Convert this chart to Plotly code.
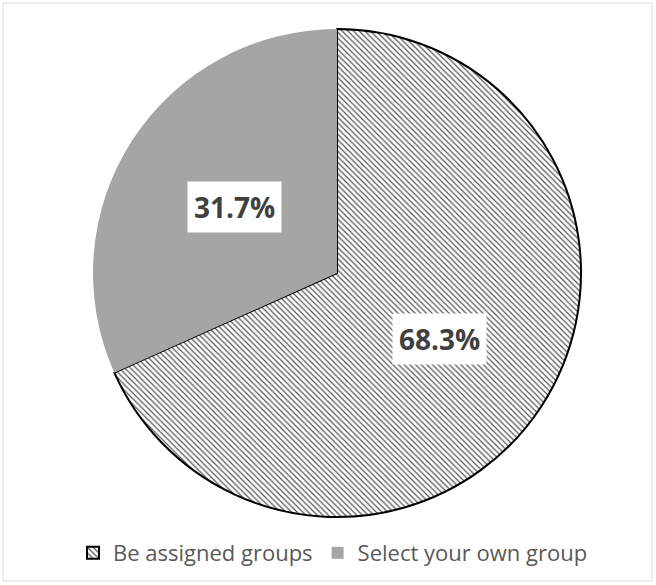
import math
import plotly.graph_objects as go

labels = ["Be assigned groups", "Select your own group"]
values = [68.3, 31.7]
text_labels = ["68.3%", "31.7%"]

W, H = 656, 585
ML, MR, MT, MB = 18, 0, 29, 68
pw, ph = W - ML - MR, H - MT - MB

fig = go.Figure(go.Pie(
    labels=labels,
    values=values,
    sort=False,
    direction="clockwise",
    rotation=0,
    textinfo="none",
    hoverinfo="label+percent",
    marker=dict(
        colors=["white", "#a5a5a5"],
        line=dict(color=["black", "#a5a5a5"], width=[2, 0]),
        pattern=dict(shape=["\\", ""], fgcolor="#555555", bgcolor="white",
                     size=4, solidity=0.3),
    ),
    domain=dict(x=[0, 1], y=[0, 1]),
))

# label positions from slice mid-angles
total = sum(values)
cum = 0
R_px = min(pw, ph) / 2
annotations = []
for v, t in zip(values, text_labels):
    mid = (cum + v / 2) / total * 2 * math.pi
    cum += v
    r = 0.50 * R_px
    dx = r * math.sin(mid)
    dy = r * math.cos(mid)
    annotations.append(dict(
        x=0.5 + dx / pw, y=0.5 + dy / ph, xref="paper", yref="paper",
        text=f"<b>{t}</b>", showarrow=False,
        font=dict(family="Open Sans", size=28, color="#404040"),
        bgcolor="white", borderpad=6,
    ))

def px2x(p):
    return (p - ML) / pw

def px2y(p):
    return (H - MB - p) / ph

fig.update_layout(
    width=W, height=H,
    margin=dict(l=ML, r=MR, t=MT, b=MB),
    paper_bgcolor="white",
    annotations=annotations,
    showlegend=True,
    legend=dict(orientation="h", x=px2x(333), xanchor="center", y=px2y(532), yanchor="top",
                font=dict(family="Open Sans", size=22, color="#595959"),
                itemwidth=30, traceorder="normal"),
    shapes=[dict(type="rect", xref="paper", yref="paper",
                 x0=px2x(3), x1=px2x(652), y0=px2y(581), y1=px2y(3),
                 line=dict(color="#d9d9d9", width=1), layer="below")],
)

fig.write_html("out.html")
